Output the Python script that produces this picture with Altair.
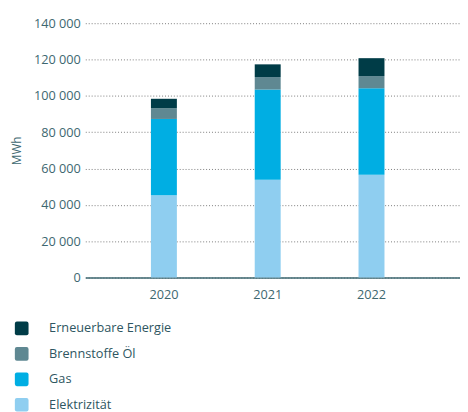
import altair as alt
import pandas as pd

years = ["2020", "2021", "2022"]
categories = ["Erneuerbare Energie", "Brennstoffe Öl", "Gas", "Elektrizität"]
colors = ["#003c47", "#5f8892", "#00aee3", "#8fcef0"]
elektrizitaet = [45300, 53900, 56600]
gas = [42000, 49600, 47600]
oel = [5900, 6850, 6700]
erneuerbar = [5200, 7000, 9850]
y_ticks = [0, 20000, 40000, 60000, 80000, 100000, 120000, 140000]

series = {
    "Elektrizität": elektrizitaet,
    "Gas": gas,
    "Brennstoffe Öl": oel,
    "Erneuerbare Energie": erneuerbar,
}
stack_order = {"Elektrizität": 0, "Gas": 1, "Brennstoffe Öl": 2, "Erneuerbare Energie": 3}
rows = []
for cat, vals in series.items():
    for y, v in zip(years, vals):
        rows.append({"Jahr": y, "Kategorie": cat, "Wert": v, "Ordnung": stack_order[cat]})
df = pd.DataFrame(rows)

text_color = "#3d6770"
font = "Open Sans"

rounded_square = ("M -0.7 -1 L 0.7 -1 Q 1 -1 1 -0.7 L 1 0.7 Q 1 1 0.7 1 "
                  "L -0.7 1 Q -1 1 -1 0.7 L -1 -0.7 Q -1 -1 -0.7 -1 Z")

chart = alt.Chart(df).mark_bar().encode(
    x=alt.X("Jahr:N",
            scale=alt.Scale(paddingInner=0.75, paddingOuter=0.68, align=0.465),
            axis=alt.Axis(title=None, labelAngle=0, ticks=False, domainColor=text_color,
                          domainWidth=1.5, labelColor=text_color, labelFontSize=13,
                          labelFont=font, labelPadding=11, grid=False)),
    y=alt.Y("Wert:Q",
            scale=alt.Scale(domain=[0, 140000]),
            axis=alt.Axis(title="MWh", values=y_ticks, domain=False, ticks=False,
                          labelExpr="replace(format(datum.value, ','), ',', ' ')",
                          labelColor=text_color, labelFontSize=13, labelFont=font,
                          labelPadding=5, titleColor=text_color, titleFont=font,
                          titleFontSize=12, titleFontWeight="normal", titleX=-63,
                          gridDash=[1, 2], gridColor="#7a7a7a", gridWidth=1)),
    color=alt.Color("Kategorie:N",
                    scale=alt.Scale(domain=categories, range=colors),
                    legend=alt.Legend(title=None, orient="none", legendX=-72, legendY=305,
                                      symbolType=rounded_square, symbolSize=196,
                                      symbolStrokeWidth=0, rowPadding=12, labelOffset=21,
                                      labelFontSize=13, labelFont=font,
                                      labelColor="#2e5661")),
    order=alt.Order("Ordnung:Q", sort="ascending"),
).properties(
    width=383, height=260,
    padding={"left": 3, "top": 5, "right": 0, "bottom": 2},
).configure_view(stroke=None)

chart.save("out.html", embed_options={"renderer": "svg", "actions": False})
